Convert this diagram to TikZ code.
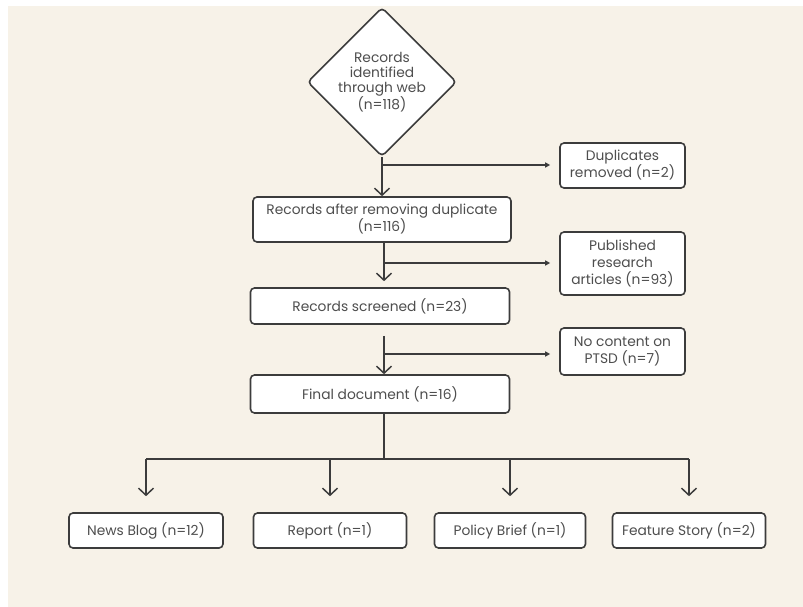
\documentclass[tikz,border=0pt]{standalone}
\usepackage{fontspec}
\setmainfont{Poppins}
\usetikzlibrary{shapes.geometric,arrows.meta}
\definecolor{paper}{RGB}{247,242,232}
\definecolor{ink}{RGB}{60,60,60}
\definecolor{txt}{RGB}{78,78,78}
\begin{document}
\begin{tikzpicture}[x=1pt,y=-1pt,
    box/.style={draw=ink,line width=1.6pt,rounded corners=4pt,fill=white,text=txt,
        align=center,inner sep=0pt,font=\fontsize{13.8}{17}\selectfont},
    link/.style={draw=ink,line width=1.5pt},
    down/.style={link,-{Straight Barb[length=7pt,width=15pt,line width=1.5pt]}},
    side/.style={link,-{Triangle[length=5pt,width=5pt]},shorten >=9pt}]
    \fill[white] (0,0) rectangle (803,607);
    \fill[paper] (8,6) rectangle (803,607);
    \useasboundingbox (0,0) rectangle (803,607);
    % main column
    \node[box,shape=diamond,minimum width=149pt,minimum height=149pt,font=\fontsize{13.8}{15}\selectfont] (web) at (382,82)
        {Records\\identified\\through web\\(n=118)};
    \node[box,minimum width=258pt,minimum height=45pt] (after) at (382,219.5)
        {Records after removing duplicate\\(n=116)};
    \node[box,minimum width=259pt,minimum height=36pt] (screened) at (380,306) {Records screened (n=23)};
    \node[box,minimum width=259pt,minimum height=38pt] (final) at (380,394) {Final document (n=16)};
    % excluded
    \node[box,minimum width=125pt,minimum height=45pt] (dup) at (622.5,165.5) {Duplicates\\removed (n=2)};
    \node[box,minimum width=125pt,minimum height=63pt] (pub) at (622.5,263.5) {Published\\research\\articles (n=93)};
    \node[box,minimum width=125pt,minimum height=47pt] (nocont) at (622.5,351.5) {No content on\\PTSD (n=7)};
    % outputs
    \node[box,minimum width=154pt,minimum height=35pt] (news) at (146,530.5) {News Blog (n=12)};
    \node[box,minimum width=153pt,minimum height=35pt] (report) at (330,530.5) {Report (n=1)};
    \node[box,minimum width=151pt,minimum height=35pt] (policy) at (510,530.5) {Policy Brief (n=1)};
    \node[box,minimum width=153pt,minimum height=35pt] (feature) at (689,530.5) {Feature Story (n=2)};
    \coordinate (j1) at (382,165); \coordinate (j2) at (384,263);
    \coordinate (j3) at (384,354); \coordinate (bus) at (384,459);
    % spine
    \draw[down] (web.south) -- (after.north);
    \draw[down,shorten >=6pt] (after.south -| j2) -- (j2 |- screened.north);
    \draw[down,shorten <=11pt] (j3 |- screened.south) -- (j3 |- final.north);
    \draw[side] (j1) -- (j1 -| dup.west);
    \draw[side] (j2) -- (j2 -| pub.west);
    \draw[side] (j3) -- (j3 -| nocont.west);
    % fan out
    \draw[link] (bus |- final.south) -- (bus);
    \draw[link] (news.north |- bus) -- (feature.north |- bus);
    \foreach \n in {news,report,policy,feature}
        \draw[down,shorten >=16pt] (\n.north |- bus) -- (\n.north);
\end{tikzpicture}
\end{document}
